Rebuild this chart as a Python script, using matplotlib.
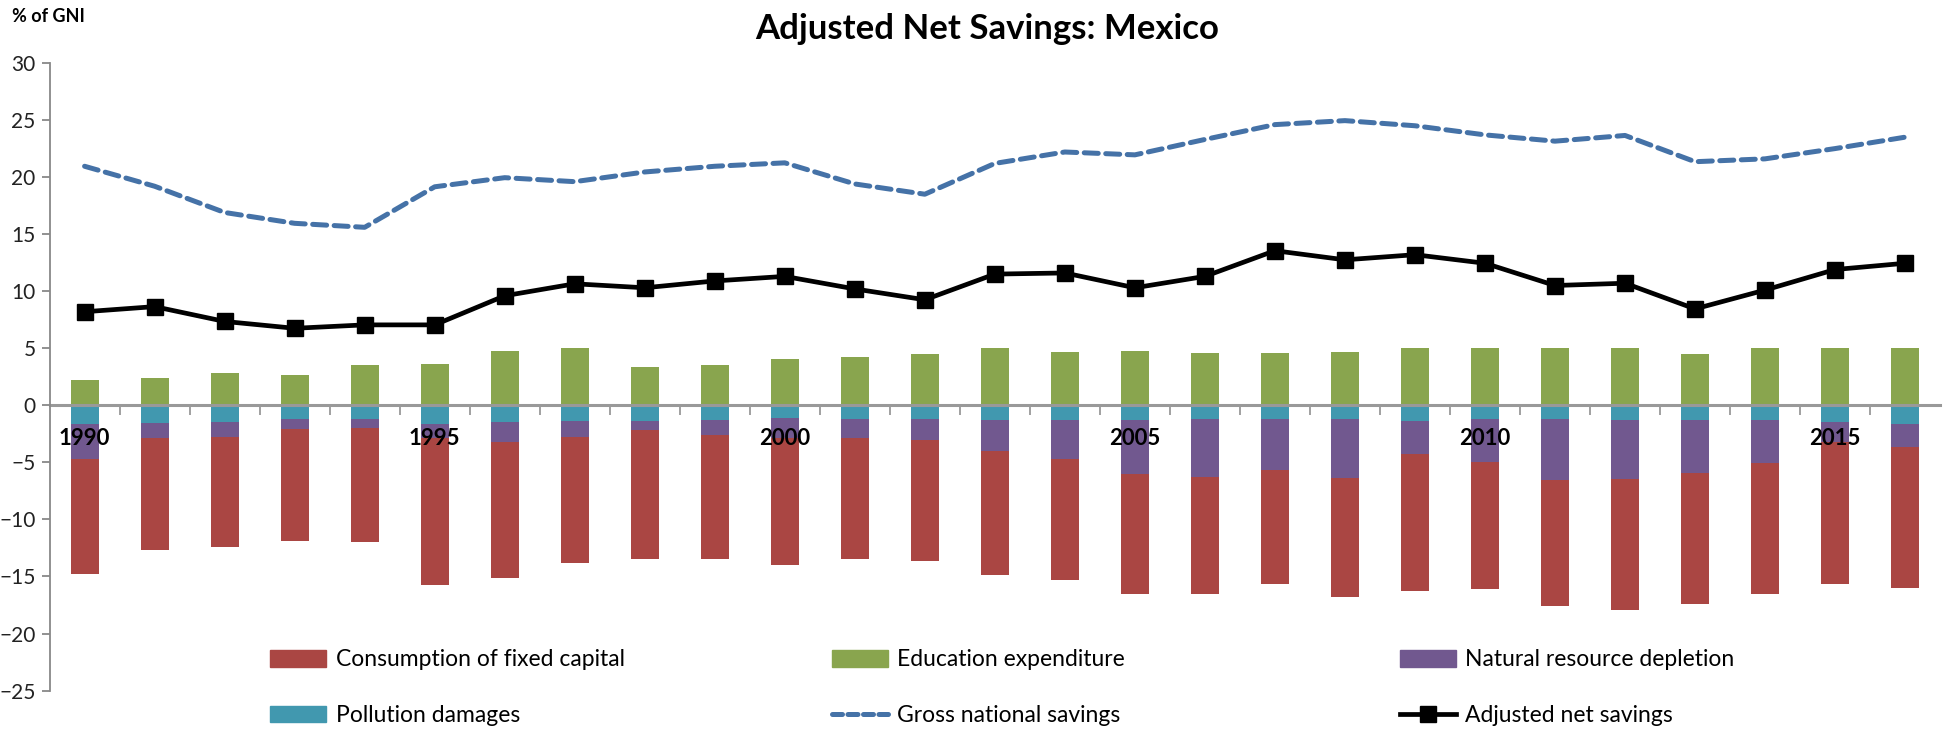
import numpy as np
import matplotlib
matplotlib.use("Agg")
import matplotlib.pyplot as plt
from matplotlib.patches import Patch
from matplotlib.lines import Line2D

plt.rcParams['font.family'] = ['Lato', 'DejaVu Sans']

# Data (% of GNI)
years = list(range(1990, 2017))
education = [2.2, 2.4, 2.85, 2.7, 3.5, 3.65, 4.8, 5.0, 3.4, 3.55, 4.1, 4.25, 4.5, 5.05, 4.7,
             4.8, 4.6, 4.6, 4.7, 5.05, 5.0, 5.0, 5.0, 4.5, 5.05, 5.05, 5.05]
pollution = [1.65, 1.55, 1.45, 1.2, 1.2, 1.65, 1.5, 1.4, 1.4, 1.25, 1.1, 1.2, 1.2, 1.3, 1.3,
             1.3, 1.2, 1.2, 1.2, 1.35, 1.2, 1.2, 1.3, 1.3, 1.3, 1.45, 1.65]
resource = [3.05, 1.35, 1.3, 0.85, 0.8, 1.2, 1.75, 1.35, 0.8, 1.35, 1.8, 1.7, 1.85, 2.7, 3.4,
            4.75, 5.05, 4.45, 5.15, 2.95, 3.75, 5.35, 5.15, 4.6, 3.75, 1.8, 2.0]
fixed_capital = [10.1, 9.8, 9.7, 9.85, 10.0, 12.9, 11.9, 11.1, 11.3, 10.9, 11.1, 10.6, 10.6, 10.85, 10.6,
                 10.45, 10.3, 10.0, 10.45, 12.0, 11.15, 11.05, 11.45, 11.55, 11.5, 12.4, 12.4]
gross_savings = [20.95, 19.2, 16.9, 15.95, 15.6, 19.15, 19.95, 19.6, 20.45, 20.95, 21.25, 19.4, 18.5, 21.2, 22.2,
                 21.95, 23.3, 24.6, 24.95, 24.5, 23.7, 23.15, 23.65, 21.35, 21.6, 22.5, 23.5]
adjusted_savings = [8.2, 8.65, 7.35, 6.75, 7.05, 7.05, 9.6, 10.65, 10.3, 10.9, 11.3, 10.2, 9.25, 11.5, 11.6,
                    10.3, 11.3, 13.55, 12.75, 13.2, 12.45, 10.5, 10.7, 8.45, 10.1, 11.9, 12.45]

c_red = '#AA4643'
c_green = '#89A54E'
c_purple = '#71588F'
c_teal = '#4198AF'
c_blue = '#4572A7'

x = np.arange(len(years))
pol = -np.array(pollution)
res = -np.array(resource)
cfc = -np.array(fixed_capital)

fig = plt.figure(figsize=(19.44, 7.3), dpi=100)
ax = fig.add_axes([0.0255, 0.054, 0.9725, 0.8597])

w = 0.4
ax.bar(x, education, w, color=c_green, zorder=1)
ax.bar(x, pol, w, color=c_teal, zorder=1)
ax.bar(x, res, w, bottom=pol, color=c_purple, zorder=1)
ax.bar(x, cfc, w, bottom=pol + res, color=c_red, zorder=1)

ax.plot(x, gross_savings, color=c_blue, lw=3.6, dashes=(2.8, 1.5), dash_capstyle='round', zorder=3)
ax.plot(x, adjusted_savings, color='black', lw=3.4, marker='s', markersize=11, zorder=4)

ax.set_xlim(-0.5, len(years) - 0.5)
ax.set_ylim(-25, 30)
ax.set_yticks(range(-25, 31, 5))

for s in ['top', 'right']:
    ax.spines[s].set_visible(False)
ax.spines['left'].set_color('#888888')
ax.spines['left'].set_linewidth(1.3)
ax.spines['bottom'].set_position(('data', 0))
ax.spines['bottom'].set_color('#999999')
ax.spines['bottom'].set_linewidth(2.2)
ax.spines['bottom'].set_zorder(2)
ax.set_axisbelow(False)

ax.set_xticks(x[::5])
ax.set_xticklabels([str(y) for y in years[::5]], fontsize=16, fontweight='bold', color='black')
ax.set_xticks(x[:-1] + 0.5, minor=True)
ax.tick_params(axis='x', which='major', length=0, pad=16)
ax.tick_params(axis='x', which='minor', length=7, width=1.3, color='#999999', direction='out')
ax.tick_params(axis='y', length=6, width=1.3, color='#888888', labelsize=15, labelcolor='#222222', pad=4)

fig.text(0.5077, 0.96, 'Adjusted Net Savings: Mexico', ha='center', va='center',
         fontsize=25, fontweight='bold')
fig.text(0.006, 0.977, '% of GNI', ha='left', va='center', fontsize=13, fontweight='bold')

# legend: three separate columns
leg_cols = [
    ([Patch(color=c_red), Patch(color=c_teal)], ['Consumption of fixed capital', 'Pollution damages'], 0.139),
    ([Patch(color=c_green), Line2D([], [], color=c_blue, lw=3.6, dashes=(2.0, 1.1), dash_capstyle='round')],
     ['Education expenditure', 'Gross national savings'], 0.428),
    ([Patch(color=c_purple), Line2D([], [], color='black', lw=3.4, marker='s', markersize=11)],
     ['Natural resource depletion', 'Adjusted net savings'], 0.72),
]
for handles, labels, xpos in leg_cols:
    fig.legend(handles, labels, loc='center left', bbox_to_anchor=(xpos, 0.058),
               frameon=False, fontsize=16.5, handlelength=2.45, handleheight=0.73,
               handletextpad=0.4, labelspacing=1.5, borderpad=0, borderaxespad=0)

fig.savefig('out.png', dpi=100)
